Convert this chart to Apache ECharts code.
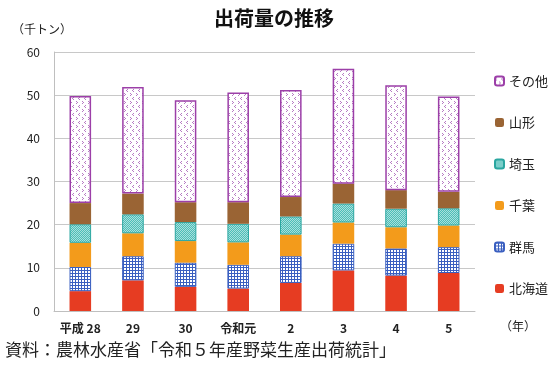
<!DOCTYPE html>
<html><head><meta charset="utf-8">
<script src="https://cdn.jsdelivr.net/npm/echarts@6/dist/echarts.min.js"></script>
<style>html,body{margin:0;padding:0;background:#fff}#c{width:550px;height:366px}</style>
</head><body><div id="c"></div>
<script>
const categories = ['平成 28','29','30','令和元','2','3','4','5'];
const hokkaido = [4.6, 7.1, 5.6, 5.2, 6.5, 9.4, 8.2, 8.8];
const gunma    = [5.6, 5.6, 5.6, 5.5, 6.2, 6.2, 6.3, 6.0];
const chiba    = [5.6, 5.3, 5.0, 5.2, 5.0, 4.9, 4.9, 5.0];
const saitama  = [4.3, 4.4, 4.4, 4.3, 4.2, 4.4, 4.3, 4.0];
const yamagata = [4.9, 4.8, 4.6, 5.0, 4.5, 4.6, 4.3, 3.8];
const other    = [24.8, 24.7, 23.6, 25.4, 24.8, 26.6, 24.3, 22.1];
const yTicks = [0,10,20,30,40,50,60];

const FONT = '"Noto Sans CJK JP", "Noto Sans", sans-serif';

function makeCanvas(w,h,draw){const c=document.createElement('canvas');c.width=w;c.height=h;const x=c.getContext('2d');draw(x);return c;}
const gridPat = makeCanvas(3,3,ctx=>{ctx.fillStyle='#fff';ctx.fillRect(0,0,3,3);ctx.fillStyle='#3a5fc0';ctx.fillRect(0,0,3,1);ctx.fillRect(0,0,1,3);});
const tealPat = makeCanvas(2,2,ctx=>{ctx.fillStyle='#4dbdb8';ctx.fillRect(0,0,2,2);ctx.fillStyle='#a8e0dc';ctx.fillRect(0,0,1,1);ctx.fillRect(1,1,1,1);});
const dotPat = makeCanvas(6,8,ctx=>{ctx.fillStyle='#fff';ctx.fillRect(0,0,6,8);ctx.fillStyle='#b77cc4';
  ctx.fillRect(1,1,1,1);ctx.fillRect(0,2,1,1);ctx.fillRect(1,3,1,1);
  ctx.fillRect(4,5,1,1);ctx.fillRect(5,6,1,1);ctx.fillRect(4,7,1,1);});

const names = ['北海道','群馬','千葉','埼玉','山形','その他'];
const datas = [hokkaido,gunma,chiba,saitama,yamagata,other];
const styles = [
  {color:'#e63c22'},
  {color:{image:gridPat,repeat:'repeat'},borderColor:'#3a5fc0',borderWidth:1},
  {color:'#f39b1b'},
  {color:{image:tealPat,repeat:'repeat'},borderColor:'#2aa6a0',borderWidth:1},
  {color:'#9a6434'},
  {color:{image:dotPat,repeat:'repeat'},borderColor:'#9c3fa8',borderWidth:1.5}
];

const chart = echarts.init(document.getElementById('c'),null,{renderer:'canvas'});
chart.setOption({
  animation:false,
  textStyle:{fontFamily:FONT},
  title:{text:'出荷量の推移',left:269,textAlign:'center',top:3,textStyle:{fontSize:20,fontWeight:'bold',color:'#111',fontFamily:FONT}},
  grid:{left:54,right:75,top:52,bottom:55},
  legend:{orient:'vertical',left:489,top:69,itemWidth:9,itemHeight:9,itemGap:27.5,
    data:['その他','山形','埼玉','千葉','群馬','北海道'],
    textStyle:{fontSize:13,color:'#222',lineHeight:14,fontFamily:FONT}},
  xAxis:{type:'category',data:categories,
    axisLine:{show:true,lineStyle:{color:'#bfbfbf'}},axisTick:{show:false},
    axisLabel:{interval:0,margin:11,fontSize:12,color:'#222',fontWeight:'bold',fontFamily:FONT}},
  yAxis:{type:'value',min:0,max:60,interval:10,
    axisLine:{show:true,lineStyle:{color:'#bfbfbf'}},
    splitLine:{lineStyle:{color:'#c8c8c8',width:1}},
    axisLabel:{margin:14,fontSize:12,color:'#222',fontFamily:FONT,formatter:v=>yTicks.includes(v)?String(v):''}},
  series:names.map((n,i)=>({name:n,type:'bar',stack:'t',data:datas[i],barWidth:'41%',itemStyle:styles[i]})),
  graphic:[
    {type:'text',left:12,top:23,style:{text:'（千トン）',fontSize:12,fill:'#222',fontFamily:FONT}},
    {type:'text',left:500,top:320,style:{text:'（年）',fontSize:12,fill:'#222',fontFamily:FONT}},
    {type:'text',left:5,top:341,style:{text:'資料：農林水産省「令和５年産野菜生産出荷統計」',fontSize:17,fill:'#222',fontFamily:FONT}}
  ]
});
</script></body></html>
